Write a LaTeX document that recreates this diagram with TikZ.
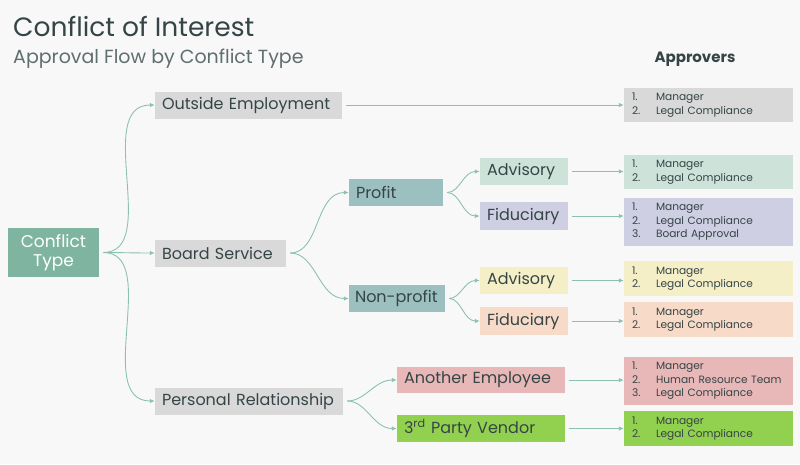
\documentclass[tikz,border=0pt]{standalone}
\usepackage{fontspec}
\setmainfont{Poppins}
\usetikzlibrary{arrows.meta}

\definecolor{bgGray}{HTML}{F8F8F8}
\definecolor{lineTeal}{HTML}{8CC2AD}
\definecolor{txtDark}{HTML}{354546}
\definecolor{txtLight}{HTML}{5F6E6E}
\definecolor{cTeal}{HTML}{7FB5A0}
\definecolor{cGray}{HTML}{D9D9D9}
\definecolor{cBlueGray}{HTML}{9CBFBF}
\definecolor{cMint}{HTML}{CDE3D9}
\definecolor{cLilac}{HTML}{CFCFE3}
\definecolor{cCream}{HTML}{F5EFC8}
\definecolor{cPeach}{HTML}{F7DAC8}
\definecolor{cRose}{HTML}{E8B8B8}
\definecolor{cLime}{HTML}{92D050}

% number column of the approver lists
\newcommand{\apnum}[1]{\makebox[24pt][l]{#1}}

\begin{document}
\begin{tikzpicture}[
		x=1pt, y=-1pt,
		% Style for the branch boxes
		box/.style={fill=#1, text=txtDark, inner xsep=7pt, inner ysep=0pt, align=left,
			font=\fontsize{16}{18}\selectfont, minimum height=27pt, anchor=center},
		% Style for the approver lists
		appr/.style={fill=#1, text=txtDark, inner xsep=8pt, inner ysep=0pt, align=left,
			text width=153pt, font=\fontsize{10.6}{13.5}\selectfont, anchor=center},
		% Connectors
		conn/.style={draw=lineTeal, line width=0.9pt, shorten <=4pt,
			-{Latex[length=5pt, width=4.5pt]}},
		% Title & Text
		mainTitle/.style={font=\fontsize{26.5}{30}\selectfont, text=txtDark, anchor=base west, inner sep=0pt},
		subTitle/.style={font=\fontsize{19}{24}\selectfont, text=txtLight, anchor=base west, inner sep=0pt}
		]
		
		\useasboundingbox (0,0) rectangle (800,464);
		\fill[bgGray] (0,0) rectangle (800,464);
		
		% ==============================================================================
		% TITLE
		% ==============================================================================
		\node[mainTitle] (title) at (13,36) {Conflict of Interest};
		\node[subTitle] (subtitle) at (13,63) {Approval Flow by Conflict Type};
		\node[font=\fontsize{15}{18}\selectfont\bfseries, text=txtDark, anchor=base] (hdr) at (695,62) {Approvers};
		
		% --- 1. Root ---
		\node[box=cTeal, text=white, align=center, text width=77pt, minimum height=49pt,
			font=\fontsize{17}{19}\selectfont] (conf) at (53.5,252.5) {Conflict\\Type};
		
		% --- 2. Conflict types ---
		\node[box=cGray, text width=173pt] (oe) at (248.5,105) {Outside Employment};
		\node[box=cGray, text width=117pt] (bs) at (220.5,253) {Board Service};
		\node[box=cGray, text width=174pt] (prs) at (249,401) {Personal Relationship};
		
		% === Board Service branch ===
		\node[box=cBlueGray, text width=80pt] (bs_p) at (396,192.5) {Profit};
		\node[box=cBlueGray, text width=84pt, inner xsep=6pt] (bs_np) at (397,298.5) {\mbox{Non-profit}};
		
		\node[box=cMint, text width=74pt] (p_adv) at (524,171.5) {Advisory};
		\node[box=cLilac, text width=74pt, minimum height=28pt] (p_fid) at (524,216) {Fiduciary};
		\node[box=cCream, text width=74pt] (np_adv) at (524,280.5) {Advisory};
		\node[box=cPeach, text width=74pt, minimum height=28pt] (np_fid) at (524,321) {Fiduciary};
		
		% === Personal Relationship branch ===
		\node[box=cRose, text width=154pt, minimum height=26pt] (pr_emp) at (481,380) {Another Employee};
		\node[box=cLime, text width=154pt] (pr_ven) at (481,428.5) {3\textsuperscript{rd} Party Vendor};
		
		% ==============================================================================
		% APPROVERS
		% ==============================================================================
		\node[appr=cGray, minimum height=34pt] (a_oe) at (708.5,105) {\apnum{1.}Manager\\\apnum{2.}Legal Compliance};
		\node[appr=cMint, minimum height=34pt] (a_p_adv) at (708.5,172) {\apnum{1.}Manager\\\apnum{2.}Legal Compliance};
		\node[appr=cLilac, minimum height=48pt] (a_p_fid) at (708.5,222) {\apnum{1.}Manager\\\apnum{2.}Legal Compliance\\\apnum{3.}Board Approval};
		\node[appr=cCream, minimum height=35pt] (a_np_adv) at (708.5,278.5) {\apnum{1.}Manager\\\apnum{2.}Legal Compliance};
		\node[appr=cPeach, minimum height=35pt] (a_np_fid) at (708.5,319.5) {\apnum{1.}Manager\\\apnum{2.}Legal Compliance};
		\node[appr=cRose, minimum height=48pt] (a_emp) at (708.5,381) {\apnum{1.}Manager\\\apnum{2.}\mbox{Human Resource Team}\\\apnum{3.}Legal Compliance};
		\node[appr=cLime, minimum height=35pt] (a_ven) at (708.5,428.5) {\apnum{1.}Manager\\\apnum{2.}Legal Compliance};
		
		% --- 3. Curved links ---
		\draw[conn] (conf.east) to[out=0, in=180] (oe.west);
		\draw[conn] (conf.east) to[out=0, in=180] (bs.west);
		\draw[conn] (conf.east) to[out=0, in=180] (prs.west);
		
		\draw[conn] (bs.east) to[out=0, in=180] (bs_p.west);
		\draw[conn] (bs.east) to[out=0, in=180] (bs_np.west);
		\draw[conn] (bs_p.east) to[out=0, in=180] (p_adv.west);
		\draw[conn] (bs_p.east) to[out=0, in=180] (p_fid.west);
		\draw[conn] (bs_np.east) to[out=0, in=180] (np_adv.west);
		\draw[conn] (bs_np.east) to[out=0, in=180] (np_fid.west);
		
		\draw[conn] (prs.east) to[out=0, in=180] (pr_emp.west);
		\draw[conn] (prs.east) to[out=0, in=180] (pr_ven.west);
		
		% --- 4. Links to approvers ---
		\draw[conn] (oe.east) -- (oe.east -| a_oe.west);
		\draw[conn] (p_adv.east) -- (p_adv.east -| a_p_adv.west);
		\draw[conn] (p_fid.east) -- (p_fid.east -| a_p_fid.west);
		\draw[conn] (np_adv.east) -- (np_adv.east -| a_np_adv.west);
		\draw[conn] (np_fid.east) -- (np_fid.east -| a_np_fid.west);
		\draw[conn] (pr_emp.east) -- (pr_emp.east -| a_emp.west);
		\draw[conn] (pr_ven.east) -- (pr_ven.east -| a_ven.west);
		
	\end{tikzpicture}
\end{document}
